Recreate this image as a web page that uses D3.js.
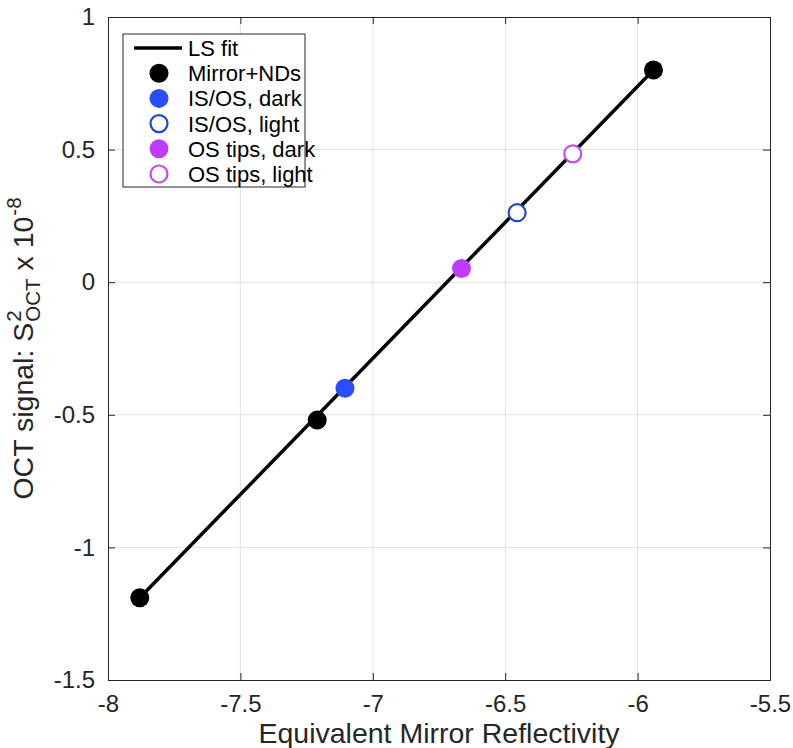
<!DOCTYPE html>
<html><head><meta charset="utf-8">
<script src="https://cdn.jsdelivr.net/npm/d3@7"></script>
<style>body{margin:0;background:#fff;} svg{display:block;font-family:"Liberation Sans",Arial,Helvetica,sans-serif;}</style>
</head><body>
<svg id="c" width="793" height="748"></svg>
<script>
// Data
const mirrorX = [-7.88, -7.21, -5.94];
const mirrorY = [-1.19, -0.52, 0.80];
const isosDarkX = [-7.105];
const isosDarkY = [-0.40];
const isosLightX = [-6.455];
const isosLightY = [0.262];
const osDarkX = [-6.665];
const osDarkY = [0.052];
const osLightX = [-6.245];
const osLightY = [0.484];
const fitX = [-7.88, -5.94];
const fitY = [-1.19, 0.80];
const xTicks = [-8, -7.5, -7, -6.5, -6, -5.5];
const yTicks = [-1.5, -1, -0.5, 0, 0.5, 1];
const xTickLabels = ["-8", "-7.5", "-7", "-6.5", "-6", "-5.5"];
const yTickLabels = ["-1.5", "-1", "-0.5", "0", "0.5", "1"];
const legendLabels = ["LS fit", "Mirror+NDs", "IS/OS, dark", "IS/OS, light", "OS tips, dark", "OS tips, light"];

const L = 108, R = 770, T = 17, B = 680;
const svg = d3.select("#c");
const x = d3.scaleLinear().domain([-8, -5.5]).range([L, R]);
const y = d3.scaleLinear().domain([-1.5, 1]).range([B, T]);
const axisCol = "#262626";
const fs = 24;

// grid
const g = svg.append("g");
g.selectAll(".gx").data(xTicks.slice(1, -1)).enter().append("line")
  .attr("x1", d => x(d)).attr("x2", d => x(d)).attr("y1", T).attr("y2", B)
  .attr("stroke", "#e3e3e3").attr("stroke-width", 1);
g.selectAll(".gy").data(yTicks.slice(1, -1)).enter().append("line")
  .attr("y1", d => y(d)).attr("y2", d => y(d)).attr("x1", L).attr("x2", R)
  .attr("stroke", "#e3e3e3").attr("stroke-width", 1);

// axes (MATLAB style: ticks inward, full box)
const tl = 7;
const xb = svg.append("g").attr("transform", `translate(0,${B})`)
  .call(d3.axisBottom(x).tickValues(xTicks).tickFormat((d, i) => xTickLabels[i]).tickSize(-tl).tickPadding(15));
const xt = svg.append("g").attr("transform", `translate(0,${T})`)
  .call(d3.axisTop(x).tickValues(xTicks).tickFormat("").tickSize(-tl));
const yl = svg.append("g").attr("transform", `translate(${L},0)`)
  .call(d3.axisLeft(y).tickValues(yTicks).tickFormat((d, i) => yTickLabels[i]).tickSize(-tl).tickPadding(13));
const yr = svg.append("g").attr("transform", `translate(${R},0)`)
  .call(d3.axisRight(y).tickValues(yTicks).tickFormat("").tickSize(-tl));
[xb, xt, yl, yr].forEach(a => {
  a.select(".domain").attr("stroke", axisCol).attr("stroke-width", 1);
  a.selectAll(".tick line").attr("stroke", axisCol).attr("stroke-width", 1);
  a.selectAll(".tick text").attr("fill", axisCol).attr("font-size", fs).attr("font-family", "Liberation Sans, Arial, sans-serif");
});

// fit line
const line = d3.line().x(d => x(d[0])).y(d => y(d[1]));
svg.append("path").datum(fitX.map((v, i) => [v, fitY[i]]))
  .attr("d", line).attr("fill", "none").attr("stroke", "#000").attr("stroke-width", 3.5);

// points
const r = 9.5;
function pts(xs, ys, fill, stroke, sw) {
  svg.append("g").selectAll("circle").data(xs.map((v, i) => [v, ys[i]])).enter().append("circle")
    .attr("cx", d => x(d[0])).attr("cy", d => y(d[1])).attr("r", fill === "#fff" ? r - 1 : r)
    .attr("fill", fill).attr("stroke", stroke).attr("stroke-width", sw);
}
const blue = "#2b4cff", blueO = "#2444d8", purple = "#bf3cff", purpleO = "#c04cf0";
pts(mirrorX, mirrorY, "#000", "none", 0);
pts(isosDarkX, isosDarkY, blue, "none", 0);
pts(isosLightX, isosLightY, "#fff", blueO, 2.2);
pts(osDarkX, osDarkY, purple, "none", 0);
pts(osLightX, osLightY, "#fff", purpleO, 2.2);

// legend
const lg = svg.append("g");
const lx = 123, ly = 34, lw = 182, lh = 153, step = 25.2;
lg.append("rect").attr("x", lx).attr("y", ly).attr("width", lw).attr("height", lh)
  .attr("fill", "#fff").attr("stroke", axisCol).attr("stroke-width", 1);
const styles = [
  {type: "line"},
  {fill: "#000", stroke: "none", sw: 0},
  {fill: blue, stroke: "none", sw: 0},
  {fill: "#fff", stroke: blueO, sw: 2.2},
  {fill: purple, stroke: "none", sw: 0},
  {fill: "#fff", stroke: purpleO, sw: 2.2}
];
legendLabels.forEach((lab, i) => {
  const cy = ly + 14 + i * step;
  const s = styles[i];
  if (s.type === "line") {
    lg.append("line").attr("x1", 134).attr("x2", 182).attr("y1", cy).attr("y2", cy)
      .attr("stroke", "#000").attr("stroke-width", 3.5);
  } else {
    lg.append("circle").attr("cx", 159).attr("cy", cy).attr("r", s.fill === "#fff" ? r - 1 : r)
      .attr("fill", s.fill).attr("stroke", s.stroke).attr("stroke-width", s.sw);
  }
  lg.append("text").attr("x", 188).attr("y", cy).attr("dy", "0.36em")
    .attr("font-size", 22).attr("fill", "#000").text(lab);
});

// x label
svg.append("text").attr("x", (L + R) / 2).attr("y", 743).attr("text-anchor", "middle")
  .attr("font-size", 28.5).attr("fill", axisCol).text("Equivalent Mirror Reflectivity");

// y label with stacked super/subscript
const yg = svg.append("g").attr("transform", `translate(33,${(T + B) / 2}) rotate(-90)`);
const yt = yg.append("g");
const lfs = 28.5, sfs = 20.5;
let cx = 0;
const t1 = yt.append("text").attr("x", cx).attr("y", 0).attr("font-size", lfs).attr("fill", axisCol).text("OCT signal: S");
cx += t1.node().getComputedTextLength();
const sup = yt.append("text").attr("x", cx + 1).attr("y", -12).attr("font-size", sfs).attr("fill", axisCol).text("2");
const sub = yt.append("text").attr("x", cx + 1).attr("y", 7).attr("font-size", sfs).attr("fill", axisCol).text("OCT");
cx += 1 + Math.max(sup.node().getComputedTextLength(), sub.node().getComputedTextLength());
const t2 = yt.append("text").attr("x", cx).attr("y", 0).attr("font-size", lfs).attr("fill", axisCol).text("\u00a0x 10");
cx += t2.node().getComputedTextLength();
const sup2 = yt.append("text").attr("x", cx + 1).attr("y", -12).attr("font-size", sfs).attr("fill", axisCol).text("-8");
cx += 1 + sup2.node().getComputedTextLength();
yt.attr("transform", `translate(${-cx / 2},0)`);
</script>
</body></html>
